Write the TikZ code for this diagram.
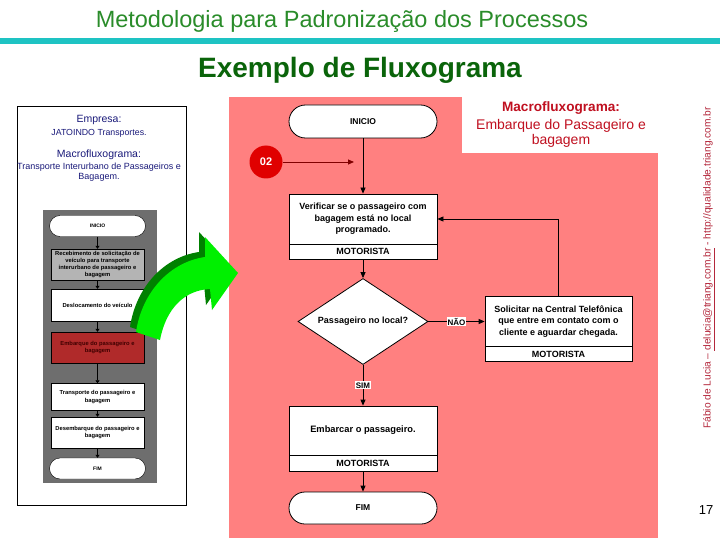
\documentclass[tikz,border=0pt]{standalone}
\usepackage{fontspec}
\setmainfont{Liberation Sans}
\usetikzlibrary{arrows.meta,shapes.geometric,shapes.misc}
\definecolor{pinkbg}{HTML}{FF8080}
\definecolor{titlegreen}{HTML}{2A8C2A}
\definecolor{darkgreen}{HTML}{0A640A}
\definecolor{barcyan}{HTML}{1EC3C3}
\definecolor{navytxt}{HTML}{1A1A7A}
\definecolor{hdrred}{HTML}{C01020}
\definecolor{panelgray}{HTML}{6E6E6E}
\definecolor{boxgray}{HTML}{B4B4B4}
\definecolor{boxred}{HTML}{B02A2A}
\definecolor{circred}{HTML}{E00000}
\definecolor{maroonline}{HTML}{800000}
\definecolor{arrgreen}{HTML}{00F000}
\definecolor{arrdark}{HTML}{008000}
\definecolor{credred}{HTML}{B4283C}
\begin{document}
\begin{tikzpicture}[x=1pt,y=-1pt,
  fbox/.style={draw=black,fill=white,line width=0.8pt,inner sep=0pt,minimum width=148pt,align=center,font=\fontsize{9}{11.5}\selectfont\bfseries},
  mrow/.style={fbox,minimum height=15pt},
  term/.style={draw=black,fill=white,line width=0.8pt,rounded rectangle,inner sep=0pt,minimum width=148pt,minimum height=33pt,font=\fontsize{8.5}{10}\selectfont\bfseries},
  arr/.style={draw=black,line width=0.8pt,-{Triangle[length=6pt,width=5pt]}},
  lbl/.style={fill=white,inner sep=1pt,font=\fontsize{8}{9}\selectfont\bfseries},
  gbox/.style={draw=black,line width=0.4pt,fill=white,inner sep=0pt,minimum width=93pt,align=center,font=\fontsize{5.8}{7.2}\selectfont\bfseries},
  gterm/.style={gbox,rounded rectangle,minimum width=96pt,minimum height=21pt},
  garr/.style={draw=black,line width=0.8pt,-{Triangle[length=3pt,width=4pt]}},
  lefttxt/.style={text=navytxt,inner sep=0pt,align=center},
]
\useasboundingbox (0,0) rectangle (720,540);
\fill[white] (0,0) rectangle (720,540);

% header
\node[font=\fontsize{23.5}{26}\selectfont, text=titlegreen] (title) at (342,21) {Metodologia para Padronização dos Processos};
\fill[barcyan] (0,38) rectangle (720,44);
\node[font=\fontsize{28}{30}\selectfont\bfseries, text=darkgreen] (ex) at (360,70) {Exemplo de Fluxograma};

% left box
\draw[line width=1pt] (17,107) rectangle (186,505);
\node[lefttxt,font=\fontsize{10.5}{12}\selectfont] (emp) at (99,120) {Empresa:};
\node[lefttxt,font=\fontsize{8.8}{10}\selectfont] (jat) at (99,133) {JATOINDO Transportes.};
\node[lefttxt,font=\fontsize{10.5}{12}\selectfont] (mac) at (99,155) {Macrofluxograma:};
\node[lefttxt,font=\fontsize{9}{10}\selectfont] (tra) at (99,172) {Transporte Interurbano de Passageiros e\\Bagagem.};

% grey panel
\fill[panelgray] (43,210) rectangle (157,483);
\node[gterm,font=\fontsize{5}{6}\selectfont\bfseries] (g1) at (97.5,226) {INICIO};
\node[gbox,fill=boxgray,minimum height=31pt] (g2) at (97.5,264.5) {Recebimento de solicitação de\\veículo para transporte\\interurbano de passageiro e\\bagagem};
\node[gbox,minimum height=32pt] (g3) at (97.5,305) {Deslocamento do veículo};
\node[gbox,fill=boxred,minimum height=31pt,text=black!75!red] (g4) at (97.5,347.5) {Embarque do passageiro e\\bagagem};
\node[gbox,minimum height=27pt] (g5) at (97.5,397) {Transporte do passageiro e\\bagagem};
\node[gbox,minimum height=31pt] (g6) at (97.5,432.5) {Desembarque do passageiro e\\bagagem};
\node[gterm,font=\fontsize{5}{6}\selectfont\bfseries] (g7) at (97.5,468.5) {FIM};
\draw[garr] (g1.south) -- (g2.north);
\draw[garr] (g2.south) -- (g3.north);
\draw[garr] (g3.south) -- (g4.north);
\draw[garr] (g4.south) -- (g5.north);
\draw[garr] (g5.south) -- (g6.north);
\draw[garr] (g6.south) -- (g7.north);

% pink panel
\fill[pinkbg] (229,97) rectangle (658,538);
\fill[white] (462,97) rectangle (660,153);
\node[text=hdrred,font=\fontsize{13.6}{15}\selectfont\bfseries] (h1) at (561,108) {Macrofluxograma:};
\node[text=hdrred,font=\fontsize{14}{15}\selectfont,align=center] (h2) at (561,133.5) {Embarque do Passageiro e\\bagagem};

% green arrow
\fill[arrdark,shift={(-6,-5)}] (136,332) .. controls (142,292) and (170,262) .. (205,257) -- (205,237) -- (238,273) -- (212,310) -- (210,289) .. controls (185,290) and (166,308) .. (160,340) -- cycle;
\fill[arrgreen] (136,332) .. controls (142,292) and (170,262) .. (205,257) -- (205,237) -- (238,273) -- (212,310) -- (210,289) .. controls (185,290) and (166,308) .. (160,340) -- cycle;

% main flow
\node[term] (ini) at (363,121.5) {INICIO};
\node[circle,fill=circred,minimum size=33pt,inner sep=0pt,text=white,font=\fontsize{11}{12}\selectfont\bfseries] (c02) at (266,162) {02};
\coordinate (j02) at (354,162);
\draw[line width=0.9pt,draw=maroonline,-{Triangle[length=6pt,width=5pt]}] (c02.east) -- (j02);

\node[fbox,minimum height=50pt] (ver) at (363,219) {Verificar se o passageiro com\\bagagem está no local\\programado.};
\node[mrow] (verm) at (363,251.5) {MOTORISTA};
\node[diamond,aspect=1.5,draw=black,fill=white,line width=0.8pt,inner sep=0pt,minimum width=130pt,minimum height=86pt,font=\fontsize{9}{11}\selectfont\bfseries] (dec) at (363,321.5) {Passageiro no local?};
\node[fbox,minimum width=147pt,minimum height=50pt] (sol) at (558.5,321.5) {Solicitar na Central Telefônica\\que entre em contato com o\\cliente e aguardar chegada.};
\node[mrow,minimum width=147pt] (solm) at (558.5,354) {MOTORISTA};
\node[fbox,minimum height=49pt,font=\fontsize{9.3}{11}\selectfont\bfseries] (emb) at (363,430.5) {Embarcar o passageiro.};
\node[mrow,minimum height=16pt] (embm) at (363,463) {MOTORISTA};
\node[term,minimum height=32pt] (fim) at (363,508) {FIM};

\draw[arr] (ini.south) -- (ver.north);
\draw[arr] (verm.south) -- (dec.north);
\draw[arr] (dec.east) -- node[lbl] {NÃO} (sol.west);
\draw[arr] (dec.south) -- node[lbl] {SIM} (emb.north);
\draw[arr] (sol.north) |- (ver.east);
\draw[arr] (embm.south) -- (fim.north);

% credits
\node[rotate=90,text=credred,font=\fontsize{10.2}{11}\selectfont] (cred) at (709,268) {Fábio de Lucia – \underline{delucia@triang.com.br} - http://qualidade.triang.com.br};
\node[font=\fontsize{13}{14}\selectfont] (pg) at (706,510) {17};
\end{tikzpicture}
\end{document}
